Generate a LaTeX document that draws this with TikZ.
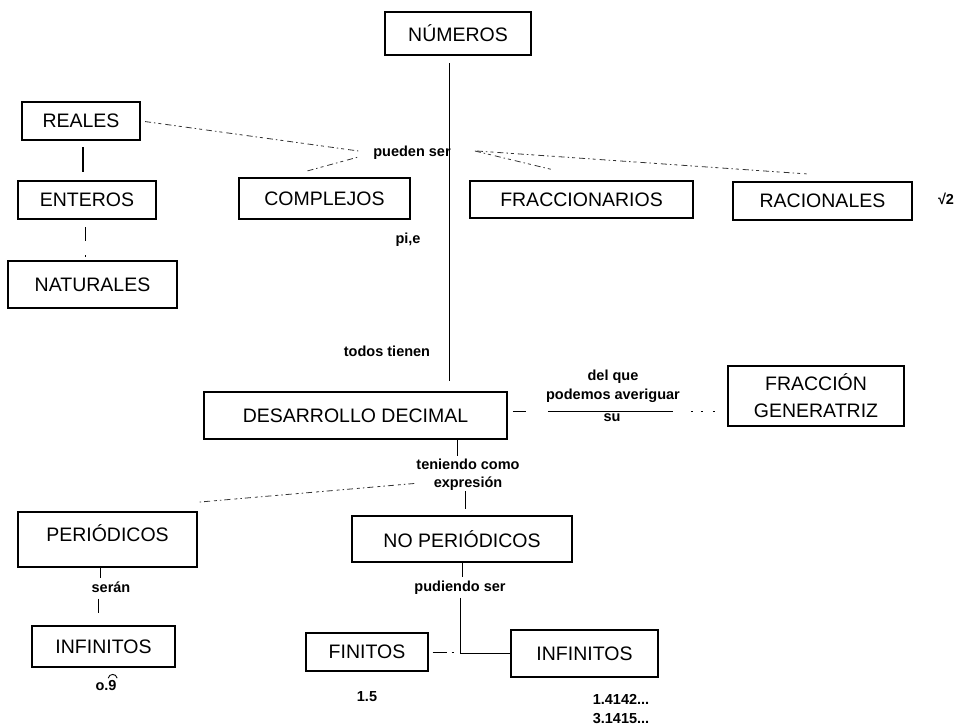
\documentclass[tikz,border=0pt]{standalone}
\usepackage{fontspec}
\setmainfont{Liberation Sans}
\usetikzlibrary{calc}
\begin{document}
\begin{tikzpicture}[x=1pt,y=-1pt,
  box/.style={draw, line width=2.2pt, inner sep=0pt, align=center,
    font=\fontsize{19.5}{27}\selectfont},
  thinbox/.style={box, line width=1.4pt},
  boxtxt/.style={inner sep=0pt, font=\fontsize{19.5}{27}\selectfont},
  sz/.style n args={2}{minimum width=#1, minimum height=#2},
  lbl/.style={inner sep=0pt, align=center, font=\bfseries\fontsize{14.5}{18.5}\selectfont},
  conn/.style={line width=1pt},
  dd/.style={line width=0.8pt, black!80,
    dash pattern=on 6pt off 3pt on 1.5pt off 3pt on 3pt off 4pt}]
\useasboundingbox (0,0) rectangle (957,725);

% concept boxes
\node[box, sz={146pt}{43pt}] (num) at (458,33.5) {NÚMEROS};
\node[box, sz={118pt}{38pt}] (reales) at (81,121) {REALES};
\node[box, sz={138pt}{38pt}] (ent) at (87,200) {ENTEROS};
\node[box, sz={169pt}{47pt}] (nat) at (92.5,284.5) {NATURALES};
\node[box, sz={171pt}{41pt}] (comp) at (324.5,198.5) {COMPLEJOS};
\node[box, sz={223pt}{37pt}] (fra) at (581.5,199.5) {FRACCIONARIOS};
\node[box, sz={179pt}{38pt}] (rac) at (822.5,201) {RACIONALES};
\node[box, line width=1.8pt, sz={303pt}{47pt}] (des) at (355.5,415.5) {DESARROLLO DECIMAL};
\node[box, sz={176pt}{60pt}] (fg) at (816,396) {FRACCIÓN\\GENERATRIZ};
\node[box, line width=1.8pt, sz={179pt}{55pt}] (per) at (107.5,539.5) {};
\node[boxtxt] (pertxt) at (107.5,533) {PERIÓDICOS};
\node[box, sz={220pt}{46pt}] (noper) at (462,539) {NO PERIÓDICOS};
\node[box, sz={143pt}{41pt}] (infL) at (103.5,646.5) {INFINITOS};
\node[thinbox, sz={122pt}{38pt}] (fin) at (367,652) {FINITOS};
\node[thinbox, sz={147pt}{47pt}] (infR) at (584.5,653.5) {INFINITOS};

% linking words and examples
\node[lbl] (ps) at (412,153) {pueden ser};
\node[lbl] (pie) at (408,240) {pi,e};
\node[lbl] (sq) at (946,199) {√2};
\node[lbl] (tt) at (387,351) {todos tienen};
\node[lbl] (dq) at (613,386.5) {del que\\podemos averiguar};
\node[lbl] (su) at (612,418) {su};
\node[lbl, font=\bfseries\fontsize{14.5}{17.5}\selectfont] (tc) at (468,474.5) {teniendo como\\expresión};
\node[lbl] (ser) at (111,587) {serán};
\node[lbl] (ov) at (106,685) {o.9};
\node[lbl] (pd) at (460,588) {pudiendo ser};
\node[lbl] (n15) at (367,697) {1.5};
\node[lbl] (nums) at (621,709) {1.4142...\\3.1415...};
\coordinate (dqline) at (613,411);

% period arc over the repeating digit
\draw[line width=0.9pt] ([xshift=-8.5pt,yshift=1.5pt]ov.north east)
  .. controls +(1,-5) and +(-1,-5) .. ([xshift=0.5pt,yshift=1.5pt]ov.north east);

% main spine
\draw[conn, shorten >=10pt] ([xshift=-9pt,yshift=-7pt]num.south)
  -- ([xshift=-9pt]num.south |- des.north);

% left chain
\draw[conn, line width=1.2pt, shorten <=6pt, shorten >=8pt]
  ([xshift=2pt]reales.south) -- ([xshift=2pt]reales.south |- ent.north);
\draw[conn, dash pattern=on 14pt off 14pt on 1.5pt off 10pt, shorten <=7pt]
  ([xshift=-2pt]ent.south) -- ([xshift=-2pt]ent.south |- nat.north);

% "pueden ser" fan
\draw[dd, shorten <=4pt, shorten >=15pt] (reales.east) -- (ps.west);
\draw[dd, shorten >=15pt] ([xshift=-17pt,yshift=6pt]comp.north) -- (ps.west);
\draw[dd] ([xshift=24pt,yshift=2pt]ps.east) -- ([xshift=-28pt,yshift=10pt]fra.north);
\draw[dd] ([xshift=26pt,yshift=2pt]ps.east) -- ([xshift=-16pt,yshift=7pt]rac.north);

% decimal expansion to generating fraction
\draw[conn, dash pattern=on 0pt off 5pt on 13pt off 22pt on 125pt off 18pt on 2pt off 8pt on 2pt off 10pt on 2pt off 40pt]
  (des.east |- dqline) -- (fg.west |- dqline);

% decimal expansion to its two kinds
\draw[conn, shorten >=3pt] ([xshift=101.5pt]des.south) -- ([xshift=101.5pt]des.south |- tc.north);
\draw[dd] ([xshift=-2pt,yshift=-9pt]tc.west) -- ([xshift=1pt,yshift=9pt]per.north east);
\draw[conn, shorten <=1pt, shorten >=6pt] ([xshift=-3pt]tc.south) -- ([xshift=-3pt]tc.south |- noper.north);

% periodic branch
\draw[conn, shorten >=3pt] ([xshift=-7.5pt]per.south) -- ([xshift=-7.5pt]per.south |- ser.north);
\draw[conn, dash pattern=on 14pt off 14pt, shorten <=6pt]
  ([xshift=-9.5pt]per.south |- ser.south) -- ([xshift=-9.5pt]per.south |- infL.north);

% non-periodic branch
\draw[conn, shorten >=4pt] (noper.south) -- (noper.south |- pd.north);
\draw[conn] ([yshift=-3pt]pd.south) -- (pd.south |- infR.west) -- (infR.west);
\draw[conn, dash pattern=on 0pt off 4pt on 14pt off 5pt on 2pt off 20pt]
  (fin.east) -- (fin.east -| pd.south);
\end{tikzpicture}
\end{document}
